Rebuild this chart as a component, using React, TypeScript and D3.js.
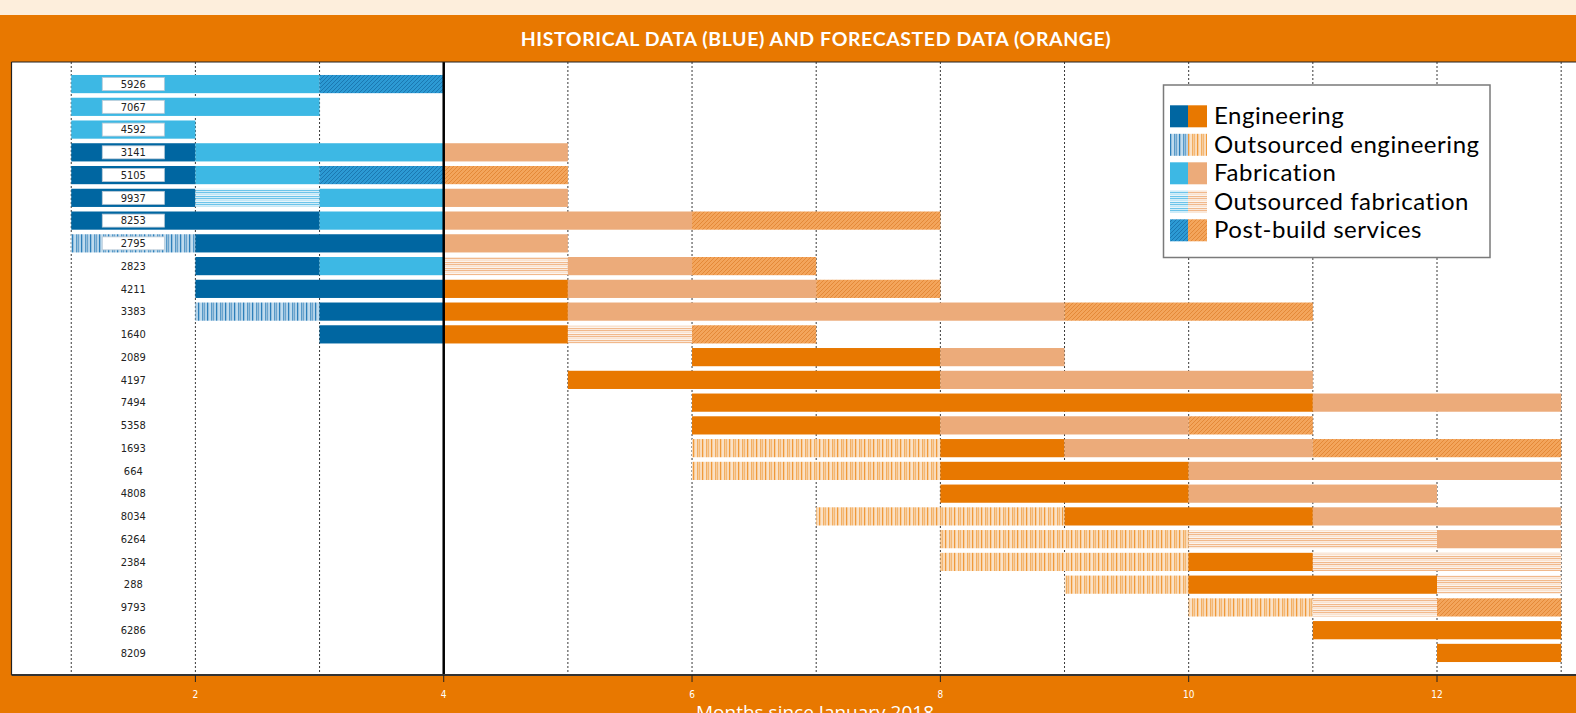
import * as d3 from 'd3'

const W = 1576, H = 713

// project ids, top to bottom
const projects = [
  '5926', '7067', '4592', '3141', '5105', '9937', '8253', '2795', '2823', '4211',
  '3383', '1640', '2089', '4197', '7494', '5358', '1693', '664', '4808', '8034',
  '6264', '2384', '288', '9793', '6286', '8209',
]

// [project, start month, end month, activity]
// E = engineering, OE = outsourced engineering, F = fabrication,
// OF = outsourced fabrication, P = post-build services
const segments: [string, number, number, string][] = [
  ['5926', 1, 3, 'F'], ['5926', 3, 4, 'P'],
  ['7067', 1, 3, 'F'],
  ['4592', 1, 2, 'F'],
  ['3141', 1, 2, 'E'], ['3141', 2, 4, 'F'], ['3141', 4, 5, 'F'],
  ['5105', 1, 2, 'E'], ['5105', 2, 3, 'F'], ['5105', 3, 4, 'P'], ['5105', 4, 5, 'P'],
  ['9937', 1, 2, 'E'], ['9937', 2, 3, 'OF'], ['9937', 3, 4, 'F'], ['9937', 4, 5, 'F'],
  ['8253', 1, 3, 'E'], ['8253', 3, 4, 'F'], ['8253', 4, 6, 'F'], ['8253', 6, 8, 'P'],
  ['2795', 1, 2, 'OE'], ['2795', 2, 4, 'E'], ['2795', 4, 5, 'F'],
  ['2823', 2, 3, 'E'], ['2823', 3, 4, 'F'], ['2823', 4, 5, 'OF'], ['2823', 5, 6, 'F'], ['2823', 6, 7, 'P'],
  ['4211', 2, 4, 'E'], ['4211', 4, 5, 'E'], ['4211', 5, 7, 'F'], ['4211', 7, 8, 'P'],
  ['3383', 2, 3, 'OE'], ['3383', 3, 4, 'E'], ['3383', 4, 5, 'E'], ['3383', 5, 9, 'F'], ['3383', 9, 11, 'P'],
  ['1640', 3, 4, 'E'], ['1640', 4, 5, 'E'], ['1640', 5, 6, 'OF'], ['1640', 6, 7, 'P'],
  ['2089', 6, 8, 'E'], ['2089', 8, 9, 'F'],
  ['4197', 5, 8, 'E'], ['4197', 8, 11, 'F'],
  ['7494', 6, 11, 'E'], ['7494', 11, 13, 'F'],
  ['5358', 6, 8, 'E'], ['5358', 8, 10, 'F'], ['5358', 10, 11, 'P'],
  ['1693', 6, 8, 'OE'], ['1693', 8, 9, 'E'], ['1693', 9, 11, 'F'], ['1693', 11, 13, 'P'],
  ['664', 6, 8, 'OE'], ['664', 8, 10, 'E'], ['664', 10, 13, 'F'],
  ['4808', 8, 10, 'E'], ['4808', 10, 12, 'F'],
  ['8034', 7, 9, 'OE'], ['8034', 9, 11, 'E'], ['8034', 11, 13, 'F'],
  ['6264', 8, 10, 'OE'], ['6264', 10, 12, 'OF'], ['6264', 12, 13, 'F'],
  ['2384', 8, 10, 'OE'], ['2384', 10, 11, 'E'], ['2384', 11, 13, 'OF'],
  ['288', 9, 10, 'OE'], ['288', 10, 12, 'E'], ['288', 12, 13, 'OF'],
  ['9793', 10, 11, 'OE'], ['9793', 11, 12, 'OF'], ['9793', 12, 13, 'P'],
  ['6286', 11, 13, 'E'],
  ['8209', 12, 13, 'E'],
]

const activities = ['E', 'OE', 'F', 'OF', 'P']
const activityNames = ['Engineering', 'Outsourced engineering', 'Fabrication', 'Outsourced fabrication', 'Post-build services']
const months = d3.range(1, 14)
const tickMonths = [2, 4, 6, 8, 10, 12]
const NOW = 4

const ORANGE = '#e87800'
const fills: Record<string, [string, string]> = {
  E: ['#0066a1', ORANGE],
  OE: ['url(#oe-h)', 'url(#oe-f)'],
  F: ['#3db8e4', '#ecab7a'],
  OF: ['url(#of-h)', 'url(#of-f)'],
  P: ['url(#p-h)', 'url(#p-f)'],
}

const PLOT = { left: 11.5, top: 62, bottom: 675 }
const x = d3.scaleLinear().domain([2, 12]).range([195.4, 1437])
const y = d3.scaleBand<string>().domain(projects).range([PLOT.top, PLOT.bottom])
  .paddingInner(0.2).paddingOuter(0.57)

const narrow = "'Liberation Sans Narrow', 'DejaVu Sans Condensed', sans-serif"

function Patterns() {
  const vStripes = (id: string, dark: string, light: string) => (
    <pattern id={id} width={9} height={4} patternUnits="userSpaceOnUse">
      <rect width={9} height={4} fill="#fff" />
      <rect x={0} width={1.5} height={4} fill={dark} />
      <rect x={2.5} width={1} height={4} fill={light} />
      <rect x={4.2} width={1.3} height={4} fill={dark} />
      <rect x={6.3} width={1} height={4} fill={dark} />
      <rect x={7.8} width={0.8} height={4} fill={light} />
    </pattern>
  )
  const hStripes = (id: string, dark: string, light: string) => (
    <pattern id={id} width={4} height={6} patternUnits="userSpaceOnUse">
      <rect width={4} height={6} fill="#fff" />
      <rect y={0} width={4} height={1.3} fill={dark} />
      <rect y={2.2} width={4} height={1.1} fill={light} />
      <rect y={4} width={4} height={1.3} fill={dark} />
    </pattern>
  )
  const hatch = (id: string, base: string, line: string) => (
    <pattern id={id} width={4} height={4} patternUnits="userSpaceOnUse">
      <rect width={4} height={4} fill={base} />
      <path d="M-1,1 l2,-2 M0,4 l4,-4 M3,5 l2,-2" stroke={line} strokeWidth={0.8} />
    </pattern>
  )
  return (
    <defs>
      {vStripes('oe-h', '#2d7fba', '#7fb8de')}
      {vStripes('oe-f', '#f09a3a', '#f6c48e')}
      {hStripes('of-h', '#6cc4ea', '#b2e0f4')}
      {hStripes('of-f', '#f1b98c', '#f8dcc4')}
      {hatch('p-h', '#2c9ad4', '#1670a8')}
      {hatch('p-f', '#f3a55c', '#e0812e')}
    </defs>
  )
}

export default function App() {
  const bh = y.bandwidth()
  const boxed = new Set(segments.filter(s => s[1] === 1).map(s => s[0]))
  const legendRows = d3.range(activities.length)

  return (
    <svg width={W} height={H} viewBox={`0 0 ${W} ${H}`}
      style={{ position: 'absolute', left: 0, top: 0, display: 'block' }}>
      <Patterns />
      <rect width={W} height={H} fill={ORANGE} />
      <rect width={W} height={15} fill="#fdeedc" />
      <text x={816} y={46} textAnchor="middle" fill="#fff" fontFamily="Lato, sans-serif"
        fontWeight={700} fontSize={19.5} letterSpacing={0.6}>HISTORICAL DATA (BLUE) AND FORECASTED DATA (ORANGE)</text>

      {/* plot area */}
      <rect x={PLOT.left} y={PLOT.top} width={W} height={PLOT.bottom - PLOT.top} fill="#fff" />
      {months.map(m => (
        <line key={m} x1={x(m)} x2={x(m)} y1={PLOT.top} y2={PLOT.bottom}
          stroke="#222" strokeWidth={0.9} strokeDasharray="2,2" />
      ))}

      {segments.map(([p, s, e, a], i) => (
        <rect key={i} x={x(s)} y={y(p)} width={x(e) - x(s)} height={bh}
          fill={fills[a][e <= NOW ? 0 : 1]} />
      ))}

      {projects.map(p => (
        <g key={p}>
          {boxed.has(p) && (
            <rect x={x(1.25)} y={y(p)! + bh / 2 - 6.5} width={x(1.75) - x(1.25)} height={13}
              fill="#fff" stroke="#b9c9d6" strokeWidth={0.8} />
          )}
          <text x={x(1.5)} y={y(p)! + bh / 2 + 3.8} textAnchor="middle" fontFamily={narrow}
            fontSize={11} fill="#222">{p}</text>
        </g>
      ))}

      <line x1={x(NOW)} x2={x(NOW)} y1={PLOT.top} y2={PLOT.bottom} stroke="#000" strokeWidth={2.5} />

      {/* frame and axis */}
      <line x1={PLOT.left} x2={W} y1={PLOT.top} y2={PLOT.top} stroke="#222" strokeWidth={1.2} />
      <line x1={PLOT.left} x2={PLOT.left} y1={PLOT.top} y2={PLOT.bottom} stroke="#222" strokeWidth={1.2} />
      <line x1={PLOT.left} x2={W} y1={PLOT.bottom} y2={PLOT.bottom} stroke="#333" strokeWidth={2} />
      {tickMonths.map(t => (
        <g key={t}>
          <line x1={x(t)} x2={x(t)} y1={PLOT.bottom} y2={PLOT.bottom + 7} stroke="#222" strokeWidth={1} />
          <text x={x(t)} y={698} textAnchor="middle" fill="#fff" fontFamily={narrow} fontSize={10}>{t}</text>
        </g>
      ))}
      <text x={815} y={719} textAnchor="middle" fill="#fff" fontFamily="'Open Sans', sans-serif"
        fontSize={19}>Months since January 2018</text>

      {/* legend */}
      <g>
        <rect x={1163.5} y={85} width={326.5} height={172.5} fill="#fff" stroke="#7a7a7a" strokeWidth={1.5} />
        {legendRows.map(i => {
          const cy = 116.3 + i * 28.5
          const a = activities[i]
          return (
            <g key={a}>
              <rect x={1170} y={cy - 11} width={18} height={22} fill={fills[a][0]} />
              <rect x={1188} y={cy - 11} width={19} height={22} fill={fills[a][1]} />
              <text x={1214} y={cy + 8} fontFamily="Lato, sans-serif" fontSize={24} letterSpacing={0.55} fill="#000">
                {activityNames[i]}
              </text>
            </g>
          )
        })}
      </g>
    </svg>
  )
}
